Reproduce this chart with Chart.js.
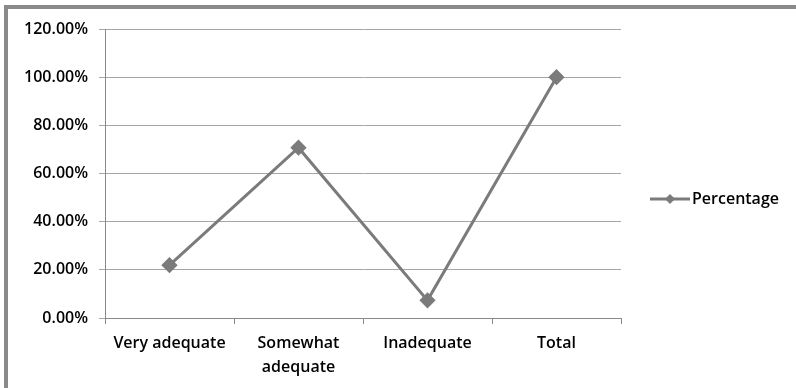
<!DOCTYPE html>
<html>
<head>
<meta charset="utf-8">
<script src="https://cdn.jsdelivr.net/npm/chart.js@4"></script>
<style>
  html, body { margin: 0; padding: 0; background: #fff; }
  #frame {
    position: absolute; left: 4px; top: 5px;
    width: 792px; height: 383px;
    border-top: 4px solid #8a8a8a; border-left: 4px solid #8a8a8a;
    box-sizing: border-box;
  }
  #wrap { position: absolute; left: 0; top: 0; width: 796px; height: 388px; }
</style>
</head>
<body>
<div id="frame"></div>
<div id="wrap"><canvas id="c" width="796" height="388"></canvas></div>
<script>
const categories = ['Very adequate', ['Somewhat', 'adequate'], 'Inadequate', 'Total'];
const percentage = [21.95, 70.73, 7.32, 100];
const yTicks = [0, 20, 40, 60, 80, 100, 120];
const seriesName = 'Percentage';

const LINE = '#7b7b7b';
const FONT = '"Open Sans", "DejaVu Sans", sans-serif';
const TEXT = { family: FONT, size: 16, weight: '600' };

// Legend entry drawn as a line with a diamond marker, to the right of the plot
const sideLegend = {
  id: 'sideLegend',
  afterDraw(chart) {
    const ctx = chart.ctx;
    const cy = 199;
    ctx.save();
    ctx.strokeStyle = LINE;
    ctx.lineWidth = 3;
    ctx.beginPath();
    ctx.moveTo(650, cy);
    ctx.lineTo(690, cy);
    ctx.stroke();
    ctx.fillStyle = LINE;
    ctx.beginPath();
    ctx.moveTo(670, cy - 5);
    ctx.lineTo(675, cy);
    ctx.lineTo(670, cy + 5);
    ctx.lineTo(665, cy);
    ctx.closePath();
    ctx.fill();
    ctx.fillStyle = '#000';
    ctx.font = TEXT.weight + ' ' + TEXT.size + 'px ' + FONT;
    ctx.textBaseline = 'middle';
    ctx.textAlign = 'left';
    ctx.fillText(seriesName, 692, cy);
    ctx.restore();
  }
};

new Chart(document.getElementById('c'), {
  type: 'line',
  data: {
    labels: categories,
    datasets: [{
      label: seriesName,
      data: percentage,
      borderColor: LINE,
      backgroundColor: LINE,
      borderWidth: 3,
      pointStyle: 'rectRot',
      pointRadius: 6,
      pointHoverRadius: 6,
      tension: 0
    }]
  },
  options: {
    responsive: false,
    animation: false,
    layout: { padding: { left: 0, right: 175, top: 29, bottom: 0 } },
    plugins: { legend: { display: false }, tooltip: { enabled: false } },
    scales: {
      x: {
        offset: true,
        grid: { offset: true, drawOnChartArea: false, drawTicks: true, tickLength: 6, color: '#8a8a8a' },
        border: { color: '#8a8a8a', width: 1 },
        ticks: {
          color: '#000', font: Object.assign({}, TEXT, { lineHeight: 1.5 }),
          padding: 7, maxRotation: 0, autoSkip: false
        },
        afterFit(scale) { scale.height = 70; }
      },
      y: {
        min: 0, max: 120,
        afterBuildTicks(scale) { scale.ticks = yTicks.map(v => ({ value: v })); },
        grid: { color: '#a6a6a6', tickLength: 6, lineWidth: 1 },
        border: { color: '#8a8a8a', width: 1 },
        ticks: {
          color: '#000', font: TEXT, padding: 11,
          callback: v => v.toFixed(2) + '%'
        },
        afterFit(scale) { scale.width = 105; }
      }
    }
  },
  plugins: [sideLegend]
});
</script>
</body>
</html>
